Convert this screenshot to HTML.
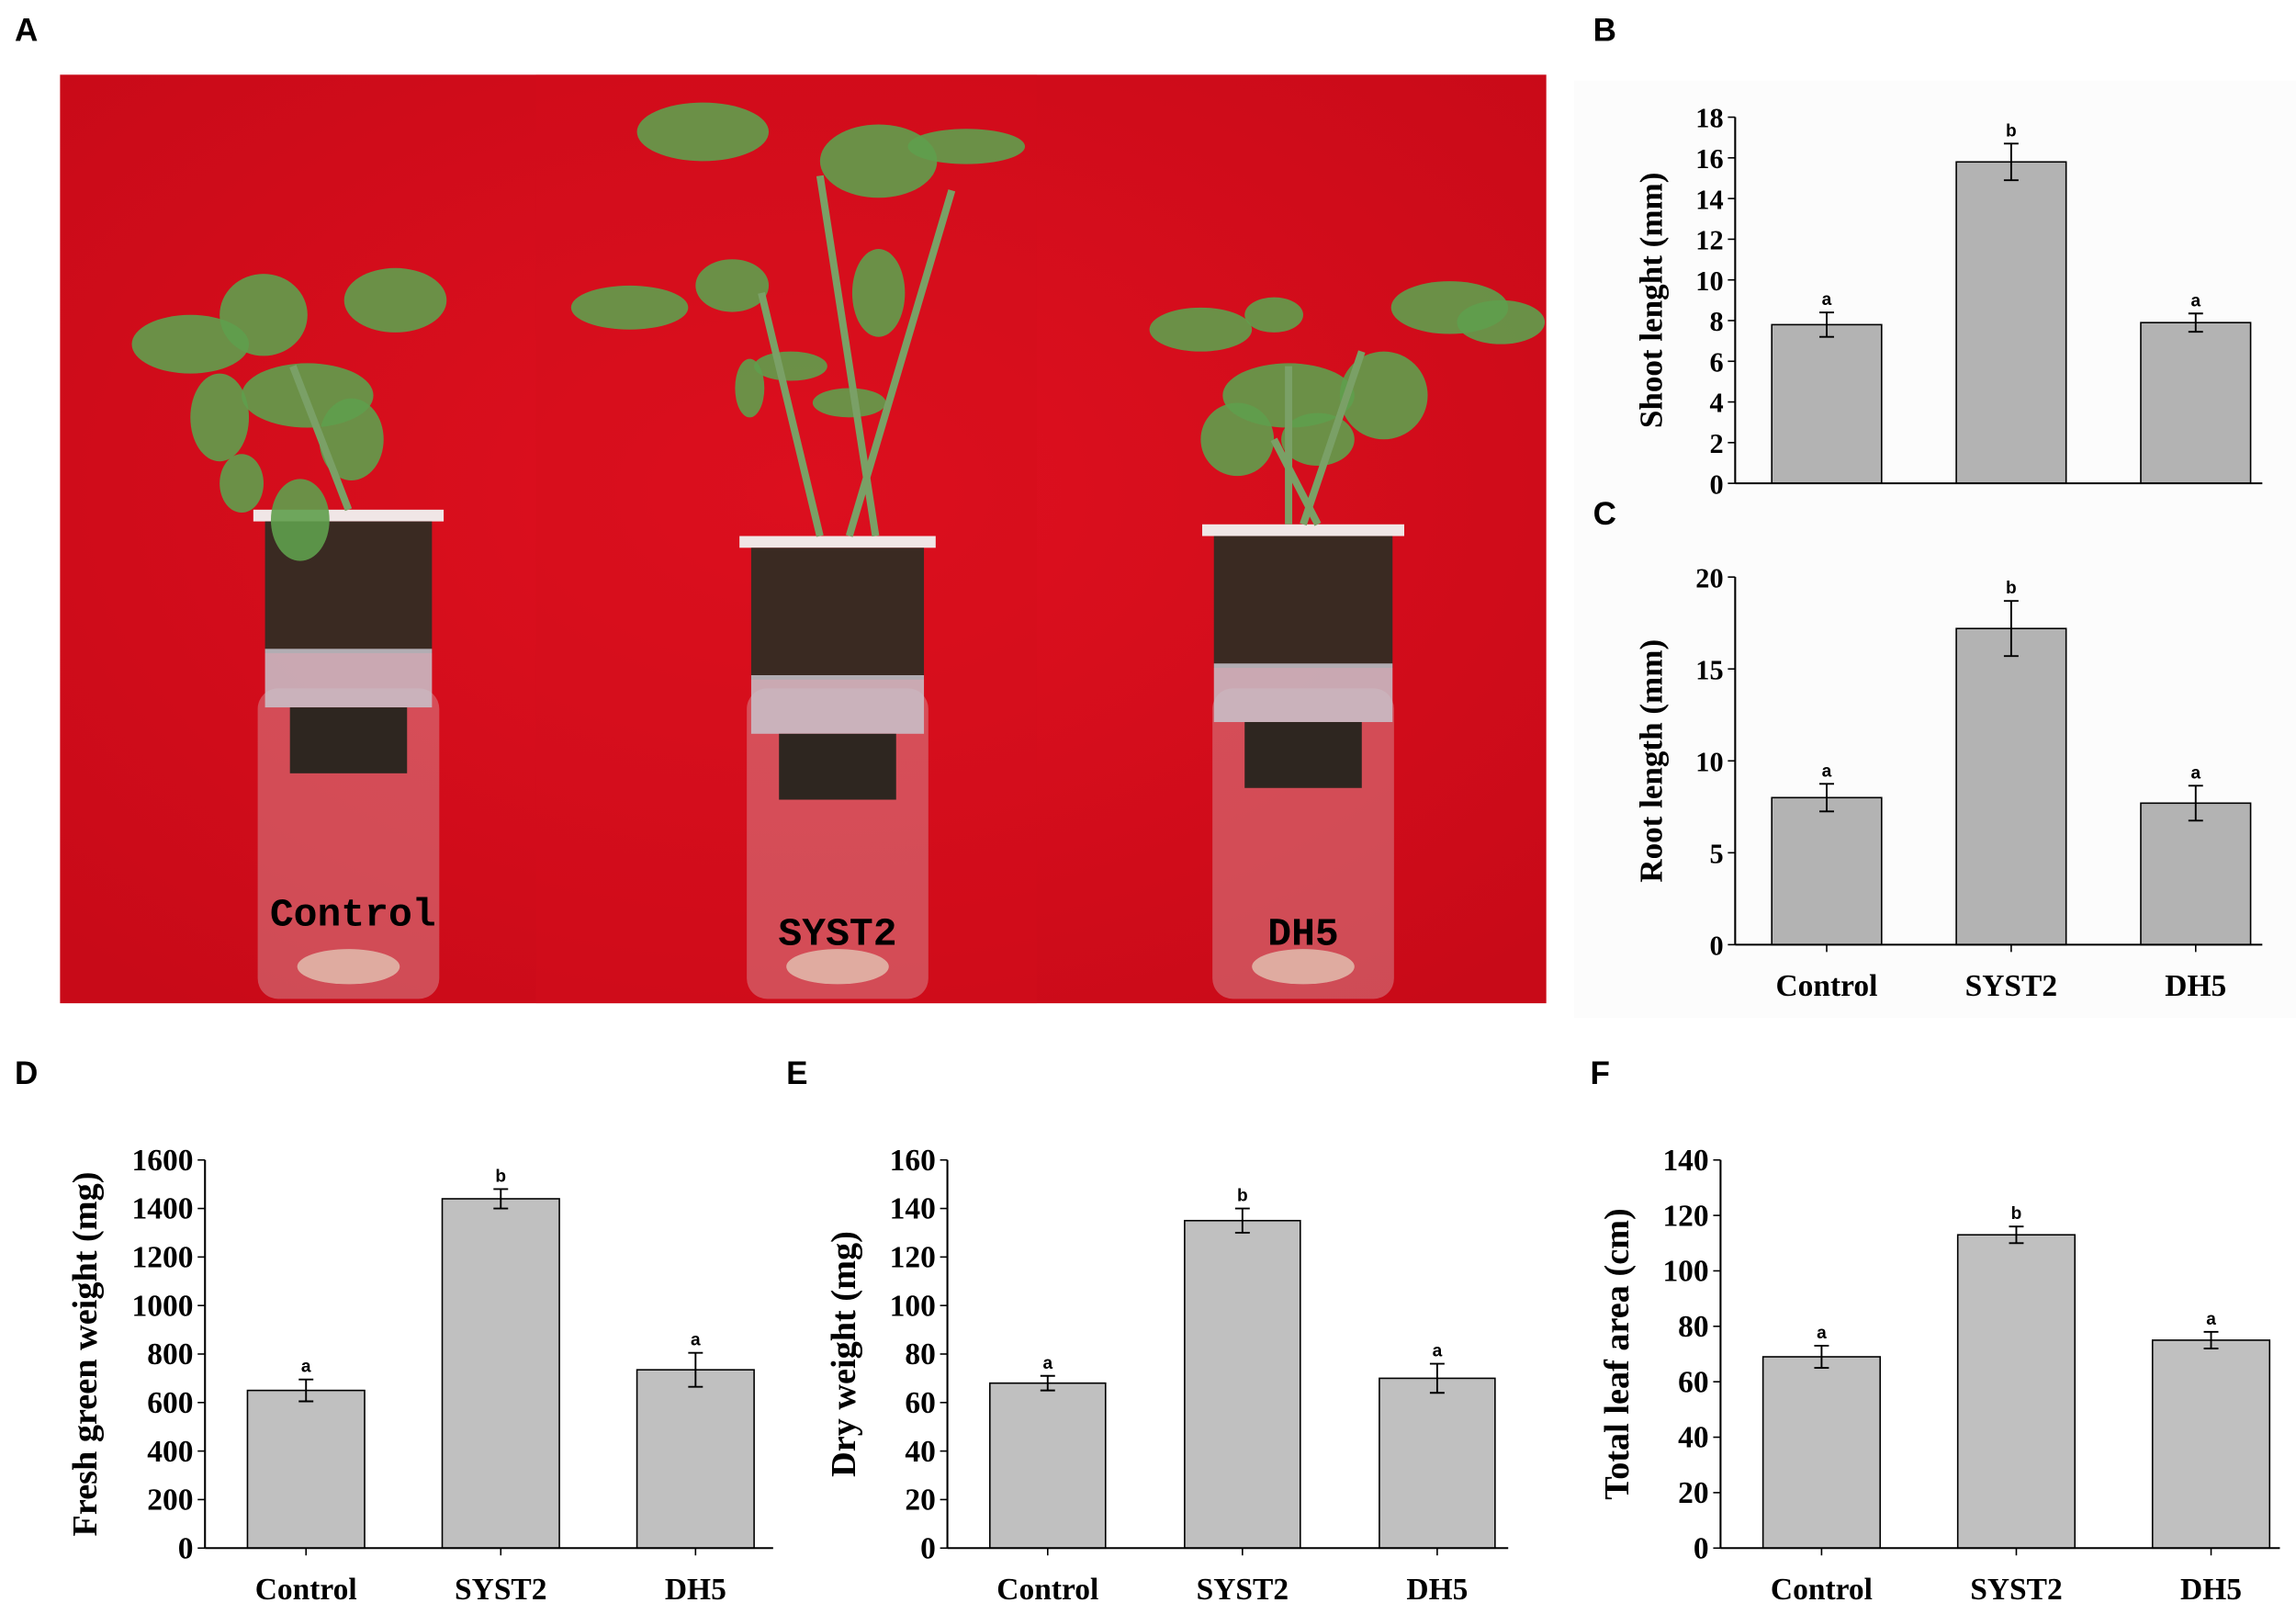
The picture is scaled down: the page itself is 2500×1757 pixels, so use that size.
<!DOCTYPE html>
<html><head><meta charset="utf-8"><style>
html,body{margin:0;padding:0;background:#fff;}
svg{display:block;}
.tk{font-family:"Liberation Serif",serif;font-weight:bold;font-size:19px;fill:#000;}
.tk2{font-family:"Liberation Serif",serif;font-weight:bold;font-size:21px;fill:#000;}
.tt{font-family:"Liberation Serif",serif;font-weight:bold;font-size:21px;fill:#000;}
.at{font-family:"Liberation Serif",serif;font-weight:bold;font-size:22px;fill:#000;}
.at2{font-family:"Liberation Serif",serif;font-weight:bold;font-size:24px;fill:#000;}
.pl{font-family:"Liberation Sans",sans-serif;font-weight:bold;font-size:22px;fill:#000;}
.lt{font-family:"Liberation Sans",sans-serif;font-weight:bold;font-size:12px;fill:#000;}
.ph{font-family:"Liberation Mono",monospace;font-weight:bold;font-size:27px;fill:#000;}
</style></head><body>
<svg id="fig" width="2500" height="1757" viewBox="0 0 1568 1102" preserveAspectRatio="none" xmlns="http://www.w3.org/2000/svg">
<defs>
<radialGradient id="redg" cx="50%" cy="45%" r="70%"><stop offset="0" stop-color="#e0101f"/><stop offset="1" stop-color="#c80a18"/></radialGradient>
</defs>
<rect x="1075" y="55" width="493" height="640" fill="#fcfcfc"/>
<g id="photo">
<rect x="41" y="51" width="1015" height="634" fill="url(#redg)"/>
<rect x="366" y="51" width="342" height="634" fill="#d40e1c" opacity="0.35"/>
</g>
<g id="charts"></g>
<text class="pl" x="10" y="28">A</text>
<text class="pl" x="1088" y="28">B</text>
<text class="pl" x="1088" y="358">C</text>
<text class="pl" x="10" y="740">D</text>
<text class="pl" x="537" y="740">E</text>
<text class="pl" x="1086" y="740">F</text>
</svg>
<script>
const categories = ["Control","SYST2","DH5"];
const shootVals = [7.8,15.8,7.9];
const shootErr = [0.6,0.9,0.45];
const rootVals = [8.0,17.2,7.7];
const rootErr = [0.75,1.5,0.95];
const freshVals = [650,1440,735];
const freshErr = [45,40,70];
const dryVals = [68,135,70];
const dryErr = [3,5,6];
const leafVals = [69,113,75];
const leafErr = [4,3,3];
const letters = ["a","b","a"];
const shootTicks = [0,2,4,6,8,10,12,14,16,18];
const rootTicks = [0,5,10,15,20];
const freshTicks = [0,200,400,600,800,1000,1200,1400,1600];
const dryTicks = [0,20,40,60,80,100,120,140,160];
const leafTicks = [0,20,40,60,80,100,120,140];

const NS="http://www.w3.org/2000/svg";
const root=document.getElementById('charts');
function mk(tag,attrs,parent,txt){const e=document.createElementNS(NS,tag);for(const k in attrs)e.setAttribute(k,attrs[k]);if(txt!==undefined)e.textContent=txt;(parent||root).appendChild(e);return e;}

const photo=document.getElementById('photo');
const jars=[{cx:238,top:348,w:130,lbl:"Control",ly:632},{cx:572,top:366,w:134,lbl:"SYST2",ly:645},{cx:890,top:358,w:138,lbl:"DH5",ly:645}];
jars.forEach((j,i)=>{
  mk('rect',{x:j.cx-62,y:470,width:124,height:212,rx:14,fill:"#d9c7c9",opacity:0.35},photo);
  mk('rect',{x:j.cx-j.w/2,y:j.top,width:j.w,height:8,fill:"#f0e6e6"},photo);
  mk('rect',{x:j.cx-j.w/2+8,y:j.top+8,width:j.w-16,height:90,fill:"#3a2a22"},photo);
  mk('rect',{x:j.cx-j.w/2+8,y:j.top+95,width:j.w-16,height:40,fill:"#c8c4cc",opacity:0.85},photo);
  mk('rect',{x:j.cx-40,y:j.top+135,width:80,height:45,fill:"#2e2620"},photo);
  mk('ellipse',{cx:j.cx,cy:660,rx:35,ry:12,fill:"#e6d4c0",opacity:0.7},photo);
});
const leaves=[[130,235,40,20],[180,215,30,28],[270,205,35,22],[210,270,45,22],[150,285,20,30],[240,300,22,28],[205,355,20,28],[165,330,15,20],
[480,90,45,20],[600,110,40,25],[660,100,40,12],[430,210,40,15],[500,195,25,18],[600,200,18,30],[540,250,25,10],[580,275,25,10],[512,265,10,20],
[820,225,35,15],[870,215,20,12],[990,210,40,18],[1025,220,30,15],[880,270,45,22],[945,270,30,30],[845,300,25,25],[900,300,25,18]];
leaves.forEach(l=>mk('ellipse',{cx:l[0],cy:l[1],rx:l[2],ry:l[3],fill:"#5f9e4c",opacity:0.9},photo));
[[238,348,200,250],[560,366,520,200],[598,366,560,120],[580,366,650,130],[880,358,880,250],[890,358,930,240],[900,358,870,300]].forEach(s=>mk('line',{x1:s[0],y1:s[1],x2:s[2],y2:s[3],stroke:"#7aa066","stroke-width":5},photo));
jars.forEach((j,i)=>{
  const t=mk('text',{class:"ph","text-anchor":"middle",x:j.cx+(i==0?3:0),y:j.ly},photo,j.lbl);
  
  
});

function chart(o){
  const g=mk('g',{});
  
  
  const y=v=>o.y0-(v-o.min)/(o.max-o.min)*(o.y0-o.y1);
  const cx=i=>o.bx[i]+o.bw/2;
  o.vals.forEach((v,i)=>{
    const r=mk('rect',{x:o.bx[i],y:y(v),width:o.bw,height:o.y0-y(v),fill:o.fill,stroke:"#000","stroke-width":1},g);
    
    
    const e=o.err[i];
    mk('line',{x1:cx(i),x2:cx(i),y1:y(v+e),y2:y(v-e),stroke:"#000","stroke-width":1.2},g);
    mk('line',{x1:cx(i)-5,x2:cx(i)+5,y1:y(v+e),y2:y(v+e),stroke:"#000","stroke-width":1.2},g);
    mk('line',{x1:cx(i)-5,x2:cx(i)+5,y1:y(v-e),y2:y(v-e),stroke:"#000","stroke-width":1.2},g);
    const t=mk('text',{class:"lt",x:cx(i),y:y(v+e)-5,"text-anchor":"middle"},g,letters[i]);
    
    
  });
  mk('line',{x1:o.ax,x2:o.ax,y1:o.y1,y2:o.y0,stroke:"#000","stroke-width":1.3},g);
  mk('line',{x1:o.ax,x2:o.xend,y1:o.y0,y2:o.y0,stroke:"#000","stroke-width":1.3},g);
  o.ticks.forEach(t=>{
    mk('line',{x1:o.ax-5,x2:o.ax,y1:y(t),y2:y(t),stroke:"#000","stroke-width":1},g);
    const tx=mk('text',{class:o.tkc,x:o.ax-8,y:y(t)+7,"text-anchor":"end"},g,t);
    
    
  });
  if(o.xlabels){
    categories.forEach((c,i)=>{
      mk('line',{x1:cx(i),x2:cx(i),y1:o.y0,y2:o.y0+5,stroke:"#000","stroke-width":1},g);
      const t=mk('text',{class:"tt",x:cx(i),y:o.y0+35,"text-anchor":"middle"},g,c);
      
      
    });
  }
  const ty=(o.y0+o.y1)/2;
  const at=mk('text',{class:o.atc,x:o.titleX,y:ty,"text-anchor":"middle",transform:`rotate(-90 ${o.titleX} ${ty})`},g,o.title);
  
  
}
chart({name:"shoot-length-chart",vals:shootVals,err:shootErr,ticks:shootTicks,min:0,max:18,y0:330,y1:80,ax:1185,xend:1545,bx:[1210,1336,1462],bw:75,fill:"#b3b3b3",title:"Shoot lenght (mm)",titleX:1135,xlabels:false,tkc:"tk",atc:"at"});
chart({name:"root-length-chart",vals:rootVals,err:rootErr,ticks:rootTicks,min:0,max:20,y0:645,y1:394,ax:1185,xend:1545,bx:[1210,1336,1462],bw:75,fill:"#b3b3b3",title:"Root length (mm)",titleX:1135,xlabels:true,tkc:"tk",atc:"at"});
chart({name:"fresh-weight-chart",vals:freshVals,err:freshErr,ticks:freshTicks,min:0,max:1600,y0:1057,y1:792,ax:140,xend:528,bx:[169,302,435],bw:80,fill:"#c0c0c0",title:"Fresh green weight (mg)",titleX:66,xlabels:true,tkc:"tk2",atc:"at2"});
chart({name:"dry-weight-chart",vals:dryVals,err:dryErr,ticks:dryTicks,min:0,max:160,y0:1057,y1:792,ax:647,xend:1030,bx:[676,809,942],bw:79,fill:"#c0c0c0",title:"Dry weight (mg)",titleX:584,xlabels:true,tkc:"tk2",atc:"at2"});
chart({name:"leaf-area-chart",vals:leafVals,err:leafErr,ticks:leafTicks,min:0,max:140,y0:1057,y1:792,ax:1175,xend:1557,bx:[1204,1337,1470],bw:80,fill:"#c0c0c0",title:"Total leaf area (cm)",titleX:1112,xlabels:true,tkc:"tk2",atc:"at2"});
</script>
</body></html>
